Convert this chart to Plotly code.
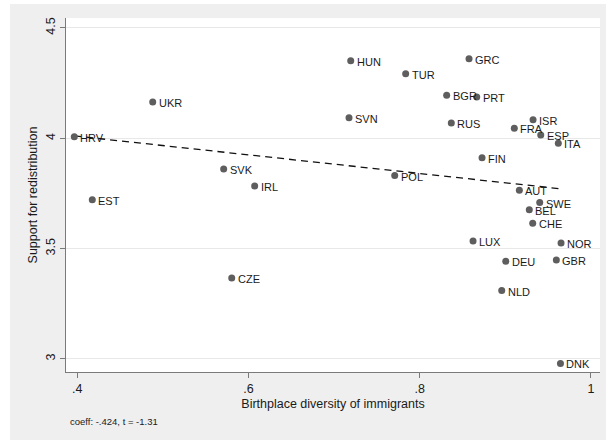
import numpy as np
import plotly.graph_objects as go

countries = ["HRV", "UKR", "SVK", "IRL", "HUN", "GRC", "TUR", "BGR", "PRT", "SVN",
             "RUS", "ISR", "FRA", "ESP", "ITA", "FIN", "POL", "AUT", "EST", "CZE",
             "SWE", "BEL", "CHE", "LUX", "NOR", "DEU", "GBR", "NLD", "DNK"]
diversity = [0.3965, 0.4881, 0.5710, 0.6072, 0.7194, 0.8576, 0.7836, 0.8315, 0.8666, 0.7174,
             0.8369, 0.9324, 0.9105, 0.9414, 0.9619, 0.8728, 0.7708, 0.9164, 0.4175, 0.5804,
             0.9402, 0.9280, 0.9320, 0.8623, 0.9651, 0.9005, 0.9596, 0.8958, 0.9644]
support = [4.007, 4.164, 3.861, 3.784, 4.351, 4.360, 4.292, 4.195, 4.187, 4.093,
           4.069, 4.084, 4.045, 4.015, 3.977, 3.912, 3.831, 3.764, 3.721, 3.367,
           3.709, 3.676, 3.615, 3.535, 3.525, 3.443, 3.449, 3.310, 2.980]

x_ticks = [0.4, 0.6, 0.8, 1.0]
x_ticklabels = [".4", ".6", ".8", "1"]
y_ticks = [3.0, 3.5, 4.0, 4.5]
y_ticklabels = ["3", "3.5", "4", "4.5"]
note_text = "coeff: -.424, t = -1.31"

FONT = "Liberation Sans, Arial, Helvetica, sans-serif"

xa = np.array(diversity)
ya = np.array(support)
slope, intercept = np.polyfit(xa, ya, 1)
fit_x = [xa.min(), xa.max()]
fit_y = [intercept + slope * v for v in fit_x]

fig = go.Figure()
fig.add_trace(go.Scatter(
    x=fit_x, y=fit_y, mode="lines",
    line=dict(color="#111111", width=1.3, dash="7px,5px"),
    hoverinfo="skip", showlegend=False))
fig.add_trace(go.Scatter(
    x=diversity, y=support, mode="markers",
    marker=dict(color="#5e5e5e", size=7, line=dict(width=0)),
    showlegend=False))

for c, xv, yv in zip(countries, diversity, support):
    fig.add_annotation(x=xv, y=yv, text=c, showarrow=False, xanchor="left",
                       yanchor="middle", xshift=4, yshift=-1,
                       font=dict(family=FONT, size=11, color="#1a1a1a"))

fig.add_annotation(xref="paper", yref="paper", x=(68 - 66) / 534, y=(372 - 421) / 354,
                   text=note_text, showarrow=False, xanchor="left", yanchor="middle",
                   font=dict(family=FONT, size=9.5, color="#1a1a1a"))

# white outer strips (left and top) of the image
fig.add_shape(type="rect", xref="paper", yref="paper",
              x0=-0.2, x1=(10 - 66) / 534, y0=-0.3, y1=1.2,
              fillcolor="white", line=dict(width=0), layer="below")
fig.add_shape(type="rect", xref="paper", yref="paper",
              x0=-0.2, x1=1.2, y0=(372 - 4) / 354, y1=1.2,
              fillcolor="white", line=dict(width=0), layer="below")

fig.update_layout(
    width=606, height=440,
    margin=dict(l=66, r=6, t=18, b=68, pad=0, autoexpand=False),
    paper_bgcolor="#efefef", plot_bgcolor="white",
    font=dict(family=FONT, size=12, color="#1a1a1a"),
    xaxis=dict(range=[0.3868, 1.0106], tickvals=x_ticks, ticktext=x_ticklabels,
               automargin=False,
               showgrid=False, zeroline=False, showline=True, linecolor="#7a7a7a",
               linewidth=1.3, ticks="outside", ticklen=5, tickcolor="#7a7a7a",
               tickfont=dict(family=FONT, size=12.5, color="#1a1a1a"),
               title=dict(text="Birthplace diversity of immigrants", standoff=4,
                          font=dict(family=FONT, size=12.5, color="#1a1a1a"))),
    yaxis=dict(range=[2.941, 4.545], tickvals=y_ticks, ticktext=y_ticklabels,
               automargin=False,
               showgrid=True, gridcolor="#e8e8e8", gridwidth=1,
               zeroline=False, showline=True, linecolor="#7a7a7a", linewidth=1.3,
               ticks="outside", ticklen=5, tickcolor="#7a7a7a", tickangle=-90,
               tickfont=dict(family=FONT, size=12.5, color="#1a1a1a"),
               title=dict(text="Support for redistribution", standoff=3,
                          font=dict(family=FONT, size=12.5, color="#1a1a1a"))),
)

fig.write_html("out.html", config={"displayModeBar": False},
               post_script="document.body.style.margin='0px';")
